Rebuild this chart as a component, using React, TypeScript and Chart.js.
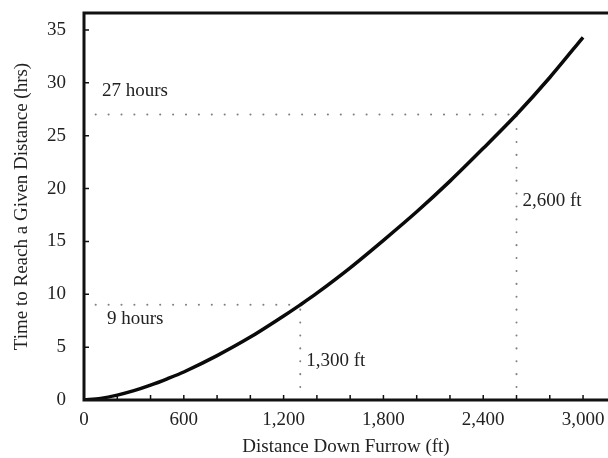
import { useEffect, useRef } from "react";
import { Chart, registerables } from "chart.js";

Chart.register(...registerables);

// Curve: distance down furrow (ft) vs. time (hrs)
const distanceFt = [0, 100, 200, 300, 400, 500, 600, 800, 1000, 1200, 1300, 1400, 1600, 1800, 2000, 2200, 2400, 2600, 2800, 3000];
const timeHrs = [0, 0.15, 0.46, 0.88, 1.4, 2.0, 2.65, 4.2, 5.95, 7.95, 9, 10.1, 12.5, 15.1, 17.8, 20.7, 23.8, 27, 30.5, 34.3];

// Reference guides
const guideHours = [9, 27];
const guideFeet = [1300, 2600];
const guideStartFt = 70;
const hourLabels = ["9 hours", "27 hours"];
const feetLabels = ["1,300 ft", "2,600 ft"];
const feetLabelHours = [3.7, 18.8];

// Axes
const xMin = 0;
const xMax = 3150;
const xTickValues = [0, 200, 400, 600, 800, 1000, 1200, 1400, 1600, 1800, 2000, 2200, 2400, 2600, 2800, 3000];
const xLabelStep = 600;
const yMin = 0;
const yMax = 36.6;
const yTickValues = [0, 5, 10, 15, 20, 25, 30, 35];
const xTitle = "Distance Down Furrow (ft)";
const yTitle = "Time to Reach a Given Distance (hrs)";

const FONT = "'Liberation Serif', 'Times New Roman', serif";
const TEXT = "#222";

export default function App() {
  const ref = useRef<HTMLCanvasElement | null>(null);

  useEffect(() => {
    if (!ref.current) return;

    const guideSets: any[] = [];
    guideHours.forEach((h, i) => {
      const f = guideFeet[i];
      const style = {
        borderColor: "#808080",
        borderWidth: 2,
        borderDash: [0.1, 12.8],
        borderCapStyle: "round",
        pointRadius: 0,
        fill: false,
      };
      guideSets.push({ data: [{ x: guideStartFt, y: h }, { x: f, y: h }], ...style });
      guideSets.push({ data: [{ x: f, y: 0 }, { x: f, y: h }], ...style });
    });

    const framePlugin = {
      id: "frame",
      afterDraw(chart: any) {
        const { ctx, chartArea: a, scales } = chart;
        const xs = scales.x;
        const ys = scales.y;
        ctx.save();
        ctx.strokeStyle = "#111";
        ctx.lineWidth = 1.5;
        ctx.beginPath();
        xs.ticks.forEach((t: any) => {
          const px = xs.getPixelForValue(t.value);
          ctx.moveTo(px, a.bottom);
          ctx.lineTo(px, a.bottom - 5);
        });
        ys.ticks.forEach((t: any) => {
          const py = ys.getPixelForValue(t.value);
          ctx.moveTo(a.left, py);
          ctx.lineTo(a.left + 5, py);
        });
        ctx.stroke();
        ctx.lineWidth = 3;
        ctx.lineCap = "square";
        ctx.beginPath();
        ctx.moveTo(a.right + 10, a.top);
        ctx.lineTo(a.left, a.top);
        ctx.lineTo(a.left, a.bottom);
        ctx.lineTo(a.right + 10, a.bottom);
        ctx.stroke();

        ctx.fillStyle = TEXT;
        ctx.font = `19px ${FONT}`;
        ctx.textAlign = "left";
        ctx.textBaseline = "middle";
        const hourOffsets = [14, -23];
        const hourLeft = [23, 18];
        hourLabels.forEach((txt, i) => {
          const py = ys.getPixelForValue(guideHours[i]);
          ctx.fillText(txt, a.left + hourLeft[i], py + hourOffsets[i]);
        });
        feetLabels.forEach((txt, i) => {
          const px = xs.getPixelForValue(guideFeet[i]);
          const py = ys.getPixelForValue(feetLabelHours[i]);
          ctx.fillText(txt, px + 6, py);
        });
        ctx.restore();
      },
    };

    const chart = new Chart(ref.current, {
      type: "line",
      data: {
        datasets: [
          {
            data: distanceFt.map((x, i) => ({ x, y: timeHrs[i] })),
            borderColor: "#0a0a0a",
            borderWidth: 3.5,
            pointRadius: 0,
            tension: 0.3,
            fill: false,
          },
          ...guideSets,
        ],
      },
      options: {
        animation: false,
        responsive: true,
        maintainAspectRatio: false,
        layout: { padding: { top: 13, right: 0, left: 0, bottom: 0 } },
        plugins: { legend: { display: false }, tooltip: { enabled: false } },
        scales: {
          x: {
            type: "linear",
            min: xMin,
            max: xMax,
            grid: { display: false },
            border: { display: false },
            afterBuildTicks: (s: any) => {
              s.ticks = xTickValues.map((value) => ({ value }));
            },
            ticks: {
              autoSkip: false,
              maxRotation: 0,
              padding: 1,
              color: TEXT,
              font: { family: FONT, size: 19 },
              callback: (v: any) =>
                Number(v) % xLabelStep === 0 ? Number(v).toLocaleString("en-US") : "",
            },
            title: {
              display: true,
              text: xTitle,
              color: TEXT,
              font: { family: FONT, size: 19 },
              padding: { top: 0, bottom: 0 },
            },
            afterFit: (s: any) => {
              s.height = 58;
              s.paddingRight = 0;
              s.paddingLeft = 0;
            },
          },
          y: {
            type: "linear",
            min: yMin,
            max: yMax,
            grid: { display: false },
            border: { display: false },
            afterBuildTicks: (s: any) => {
              s.ticks = yTickValues.map((value) => ({ value }));
            },
            ticks: {
              autoSkip: false,
              padding: 10,
              color: TEXT,
              font: { family: FONT, size: 19 },
            },
            title: {
              display: true,
              text: yTitle,
              color: TEXT,
              font: { family: FONT, size: 19 },
              padding: { top: 11, bottom: 0 },
            },
            afterFit: (s: any) => {
              s.width = 84;
              s.paddingTop = 0;
              s.paddingBottom = 0;
            },
          },
        },
      },
      plugins: [framePlugin],
    } as any);

    return () => chart.destroy();
  }, []);

  return (
    <div style={{ position: "absolute", left: 0, top: 0, width: 608, height: 458, background: "#fff" }}>
      <canvas ref={ref} />
    </div>
  );
}
